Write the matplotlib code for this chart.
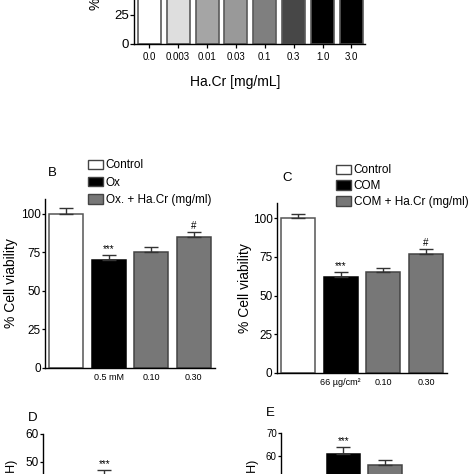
import numpy as np
import matplotlib.pyplot as plt
from matplotlib.patches import Patch

plt.rcParams['font.family'] = ['Liberation Sans', 'DejaVu Sans']

# <-- data -->
a_doses = ['0.0', '0.003', '0.01', '0.03', '0.1', '0.3', '1.0', '3.0']
a_viab = [100, 99, 97, 98, 96, 93, 90, 88]
a_colors = ['white', '#dedede', '#a5a5a5', '#999999', '#7f7f7f', '#474747', 'black', 'black']

grp_colors = ['white', 'black', '#777777', '#777777']

b_labels = ['', '0.5 mM', '0.10', '0.30']
b_viab = [100, 70.1, 75.1, 85.0]
b_err = [4.1, 3.2, 3.6, 3.5]
b_marks = ['', '***', '', '#']
b_legend = ['Control', 'Ox', 'Ox. + Ha.Cr (mg/ml)']

c_labels = ['', '66 µg/cm²', '0.10', '0.30']
c_viab = [100, 62.2, 65.0, 76.7]
c_err = [2.8, 3.2, 3.0, 3.4]
c_marks = ['', '***', '', '#']
c_legend = ['Control', 'COM', 'COM + Ha.Cr (mg/ml)']

d_ldh = [20, 44, 38, 33]
d_err = [2, 3, 2.5, 2.5]
d_marks = ['', '***', '', '']

e_ldh = [40, 61, 56.1, 48]
e_err = [2, 3, 2.2, 2.5]
e_marks = ['', '***', '', '']

W = 474.0


def box(l, t, r, b):
    # pixel box (from top-left) -> figure fraction
    return [l / W, 1 - b / W, (r - l) / W, (b - t) / W]


def style(ax, ysize):
    for s in ['top', 'right']:
        ax.spines[s].set_visible(False)
    ax.spines['left'].set_linewidth(1.0)
    ax.spines['bottom'].set_linewidth(1.0)
    ax.tick_params(axis='y', length=2.5, width=0.9, pad=0.5, labelsize=ysize)


def groups(ax, vals, errs, marks, labels, ysize, xsize):
    x = np.arange(len(vals))
    edges = ['#555555', 'black', '#444444', '#444444']
    ax.bar(x, vals, width=0.8, color=grp_colors, edgecolor=edges, linewidth=1.1, zorder=2)
    ax.errorbar(x, vals, yerr=[np.zeros(len(vals)), errs], fmt='none', ecolor='#333333',
                elinewidth=1.0, capsize=4.7, capthick=1.0, zorder=3)
    for xi, v, e, m in zip(x, vals, errs, marks):
        if m:
            ax.annotate(m, (xi, v + e), xytext=(0, 0.5), textcoords='offset points',
                        ha='center', va='bottom', fontsize=7)
    ax.set_xlim(-0.5, 3.5)
    ax.set_xticks(x)
    ax.set_xticklabels(labels)
    ax.tick_params(axis='x', length=0, pad=4, labelsize=xsize)
    style(ax, ysize)


fig = plt.figure(figsize=(4.74, 4.74), dpi=100)

# <-- A -->
axA = fig.add_axes(box(134, -101.3, 365, 43.7))
xa = np.arange(len(a_viab))
axA.bar(xa, a_viab, width=0.8, color=a_colors, edgecolor='#5a5a5a', linewidth=1.2)
axA.set_xlim(-0.53, 7.47)
axA.set_ylim(0, 125)
axA.set_yticks([0, 25, 50, 75, 100, 125])
axA.set_xticks(xa)
axA.set_xticklabels(a_doses)
axA.tick_params(axis='x', length=3, width=0.9, pad=3, labelsize=7)
style(axA, 9.5)
axA.tick_params(axis='y', length=3)
fig.text(235 / W, 1 - 82 / W, 'Ha.Cr [mg/mL]', ha='center', va='center', fontsize=10)
fig.text(96 / W, 1 - 10 / W, '% Cell viability', rotation=90, ha='center', va='bottom', fontsize=10)

# <-- B -->
axB = fig.add_axes(box(45, 198.6, 215, 367.7))
groups(axB, b_viab, b_err, b_marks, b_labels, 8.5, 6.5)
axB.set_ylim(0, 110)
axB.set_yticks([0, 25, 50, 75, 100])
fig.text(11 / W, 1 - 283 / W, '% Cell viability', rotation=90, ha='center', va='center', fontsize=10)
fig.text(52 / W, 1 - 173 / W, 'B', ha='center', va='center', fontsize=9.5)
hB = [Patch(facecolor=c, edgecolor='#444444') for c in grp_colors[:3]]
axB.legend(hB, b_legend, loc='upper left', bbox_to_anchor=(88 / W, 1 - 159.5 / W),
           bbox_transform=fig.transFigure, frameon=False, fontsize=8.5, handlelength=1.25,
           handleheight=0.85, handletextpad=0.25, labelspacing=0.44, borderpad=0, borderaxespad=0)

# <-- C -->
axC = fig.add_axes(box(276.7, 202.9, 447.3, 372.7))
groups(axC, c_viab, c_err, c_marks, c_labels, 8.5, 6.5)
axC.set_ylim(0, 110)
axC.set_yticks([0, 25, 50, 75, 100])
fig.text(245 / W, 1 - 288 / W, '% Cell viability', rotation=90, ha='center', va='center', fontsize=10)
fig.text(287 / W, 1 - 178 / W, 'C', ha='center', va='center', fontsize=9.5)
hC = [Patch(facecolor=c, edgecolor='#444444') for c in grp_colors[:3]]
axC.legend(hC, c_legend, loc='upper left', bbox_to_anchor=(336 / W, 1 - 164.5 / W),
           bbox_transform=fig.transFigure, frameon=False, fontsize=8.5, handlelength=1.25,
           handleheight=0.85, handletextpad=0.25, labelspacing=0.32, borderpad=0, borderaxespad=0)

# <-- D -->
axD = fig.add_axes(box(42.7, 434, 207, 600.2))
groups(axD, d_ldh, d_err, d_marks, ['', '', '', ''], 8.5, 6.5)
axD.set_ylim(0, 60)
axD.set_yticks(np.arange(0, 61, 10))
fig.text(12 / W, 1 - 460 / W, 'LDH release (% of total LDH)', rotation=90, ha='center', va='top', fontsize=9)
fig.text(33 / W, 1 - 418 / W, 'D', ha='center', va='center', fontsize=9.5)

# <-- E -->
axE = fig.add_axes(box(281, 432.7, 447.4, 595.8))
groups(axE, e_ldh, e_err, e_marks, ['', '', '', ''], 7, 6.5)
axE.set_ylim(0, 70)
axE.set_yticks(np.arange(0, 71, 10))
fig.text(253 / W, 1 - 460 / W, 'LDH release (% of total LDH)', rotation=90, ha='center', va='top', fontsize=9)
fig.text(270 / W, 1 - 413 / W, 'E', ha='center', va='center', fontsize=9.5)

fig.savefig('out.png', dpi=100)
